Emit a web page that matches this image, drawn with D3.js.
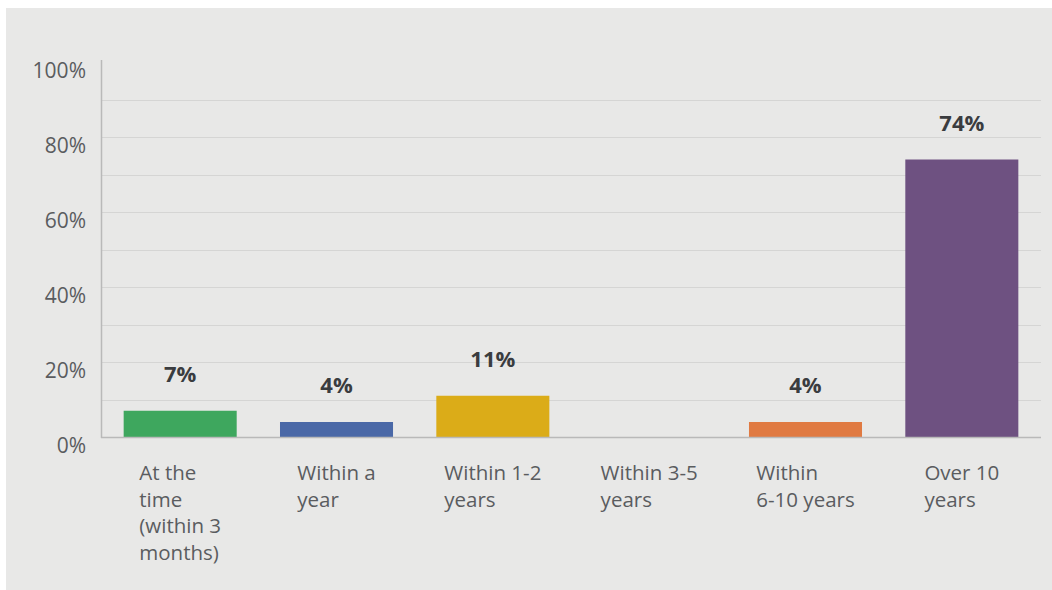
<!DOCTYPE html>
<html>
<head>
<meta charset="utf-8">
<script src="https://cdn.jsdelivr.net/npm/d3@7"></script>
<style>
  html, body { margin: 0; padding: 0; background: #ffffff; }
  svg { display: block; }
  text { font-family: "Open Sans", "Roboto", sans-serif; }
</style>
</head>
<body>
<svg id="chart" width="1052" height="590"></svg>
<script>
// Share of responses by time frame
const categories = [
  ["At the", "time", "(within 3", "months)"],
  ["Within a", "year"],
  ["Within 1-2", "years"],
  ["Within 3-5", "years"],
  ["Within", "6-10 years"],
  ["Over 10", "years"]
];
const values = [7, 4, 11, 0, 4, 74];
const valueLabels = ["7%", "4%", "11%", "", "4%", "74%"];
const barColors = ["#3ea75e", "#4a68a7", "#dbac18", "#e07a42", "#e07a42", "#6e5181"];
const yTicks = [0, 20, 40, 60, 80, 100];
const yGrid = [10, 20, 30, 40, 50, 60, 70, 80, 90];

const svg = d3.select("#chart");

// panel background
svg.append("rect")
  .attr("x", 6).attr("y", 8)
  .attr("width", 1046).attr("height", 582)
  .attr("fill", "#e8e8e7");

const plotLeft = 101, plotRight = 1041, plotTop = 62, plotBottom = 437;

const x = d3.scaleBand()
  .domain(d3.range(categories.length))
  .range([plotLeft, plotRight])
  .paddingInner(0.277)
  .paddingOuter(0.145);

const y = d3.scaleLinear().domain([0, 100]).range([plotBottom, plotTop]);

// horizontal gridlines
svg.append("g")
  .selectAll("line")
  .data(yGrid)
  .join("line")
  .attr("x1", plotLeft).attr("x2", plotRight)
  .attr("y1", d => Math.round(y(d)) + 0.5)
  .attr("y2", d => Math.round(y(d)) + 0.5)
  .attr("stroke", "#d5d5d4")
  .attr("stroke-width", 1.2);

// y tick labels
svg.append("g")
  .selectAll("text")
  .data(yTicks)
  .join("text")
  .attr("x", 86)
  .attr("y", d => y(d) + 15.5)
  .attr("text-anchor", "end")
  .attr("font-size", 21)
  .attr("fill", "#5a5c5f")
  .text(d => d + "%");

// bars
svg.append("g")
  .selectAll("rect")
  .data(values)
  .join("rect")
  .attr("x", (d, i) => x(i))
  .attr("width", x.bandwidth())
  .attr("y", d => y(d))
  .attr("height", d => plotBottom - y(d))
  .attr("fill", (d, i) => barColors[i]);

// value labels above bars
svg.append("g")
  .selectAll("text")
  .data(values)
  .join("text")
  .attr("x", (d, i) => x(i) + x.bandwidth() / 2)
  .attr("y", d => y(d) - 29)
  .attr("text-anchor", "middle")
  .attr("font-size", 22)
  .attr("font-weight", "bold")
  .attr("fill", "#3a3c3f")
  .text((d, i) => valueLabels[i]);

// axis lines
svg.append("line")
  .attr("x1", plotLeft + 0.5).attr("x2", plotLeft + 0.5)
  .attr("y1", 60).attr("y2", plotBottom + 1)
  .attr("stroke", "#b9b9b9").attr("stroke-width", 1.5);
svg.append("line")
  .attr("x1", plotLeft).attr("x2", plotRight)
  .attr("y1", plotBottom + 0.5).attr("y2", plotBottom + 0.5)
  .attr("stroke", "#b9b9b9").attr("stroke-width", 1.5);

// category labels: left-aligned lines, block centred under each bar
const cat = svg.append("g")
  .selectAll("text")
  .data(categories)
  .join("text")
  .attr("y", 480)
  .attr("font-size", 20.5)
  .attr("fill", "#5a5c5f");
cat.selectAll("tspan")
  .data(d => d)
  .join("tspan")
  .attr("x", 0)
  .attr("dy", (d, i) => i === 0 ? 0 : 26.5)
  .text(d => d);
cat.each(function (d, i) {
  const w = this.getBBox().width;
  const left = x(i) + x.bandwidth() / 2 - w / 2;
  d3.select(this).attr("transform", `translate(${left},0)`);
});
</script>
</body>
</html>
